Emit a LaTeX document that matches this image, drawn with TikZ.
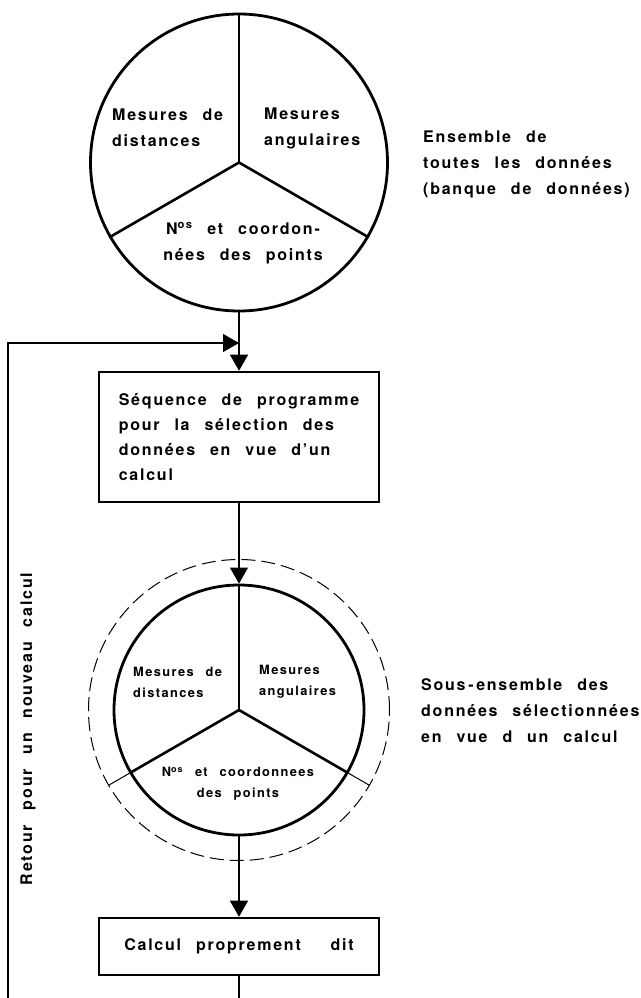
\documentclass[tikz,border=0pt]{standalone}
\usepackage{fontspec}
\newfontfamily\lbl{TeX Gyre Heros}[LetterSpace=11,WordSpace=2.4]
\usetikzlibrary{arrows.meta}

\begin{document}
\begin{tikzpicture}[x=1pt,y=-1pt,
		ring/.style={circle,draw,line width=2.8pt,inner sep=0pt},
		spoke/.style={line width=2.6pt},
		bloc/.style={draw,line width=2.6pt,align=left},
		flow/.style={line width=1.1pt,-{Triangle[width=18pt,length=16pt]}},
		big/.style={font=\lbl\bfseries\fontsize{16}{26}\selectfont,inner sep=0pt,align=left},
		small/.style={font=\lbl\bfseries\fontsize{12.8}{21}\selectfont,inner sep=0pt,align=left}]
		\useasboundingbox (0,0) rectangle (640,998);

		% ensemble de toutes les donnees
		\node[ring,minimum size=297pt] (tout) at (239,162.5) {};
		\draw[spoke] (tout.center) -- (tout.90);
		\draw[spoke] (tout.center) -- (tout.210);
		\draw[spoke] (tout.center) -- (tout.330);
		\node[big,anchor=west] (dist) at (112,128) {Mesures de\\distances};
		\node[big,anchor=west] (ang) at (264,128) {Mesures\\angulaires};
		\node[big,align=center] (pts) at (243,243.5) {N\textsuperscript{os} et coordon-\\nées des points};
		\node[big,anchor=west] (ens) at (423,164) {Ensemble de\\toutes les données\\(banque de données)};

		% selection
		\node[bloc,big,minimum width=280pt,minimum height=130pt,
			font=\lbl\bfseries\fontsize{16}{25.3}\selectfont] (seq) at (239,437)
			{Séquence de programme\\pour la sélection des\\données en vue d’un\\calcul};
		\draw[flow] (tout) -- (seq);

		% retour
		\coordinate (retour) at (8,998);
		\coordinate (fb) at (239,343);
		\draw[flow] (retour) |- (fb);
		\node[big,rotate=90] (lretour) at (28,729) {Retour pour un nouveau calcul};

		% sous-ensemble
		\node[ring,minimum size=250pt] (sel) at (239,710) {};
		\node[circle,draw,line width=1pt,dash pattern=on 14pt off 6pt,inner sep=0pt,minimum size=301pt] (selx) at (239,710) {};
		\draw[spoke] (sel.center) -- (sel.90);
		\draw[spoke] (sel.center) -- (sel.210);
		\draw[spoke] (sel.center) -- (sel.330);
		\draw[line width=1pt] (sel.210) -- (selx.210);
		\draw[line width=1pt] (sel.330) -- (selx.330);
		\draw[flow] (seq) -- (sel);
		\node[small,anchor=west] (sdist) at (133,682) {Mesures de\\distances};
		\node[small,anchor=west] (sang) at (259,682) {Mesures\\angulaires};
		\node[small,align=center] (spts) at (238,784) {N\textsuperscript{os} et coordonnees\\des points};
		\node[big,anchor=west] (sous) at (421,711) {Sous\,-\,ensemble des\\données sélectionnées\\en vue d un calcul};

		% calcul
		\node[bloc,big,minimum width=280pt,minimum height=57pt] (calc) at (239,946.5) {Calcul proprement \ dit};
		\draw[flow] (sel) -- (calc);
		\coordinate (fin) at (239,998);
		\draw[line width=1.1pt] (calc) -- (fin);
\end{tikzpicture}
\end{document}
